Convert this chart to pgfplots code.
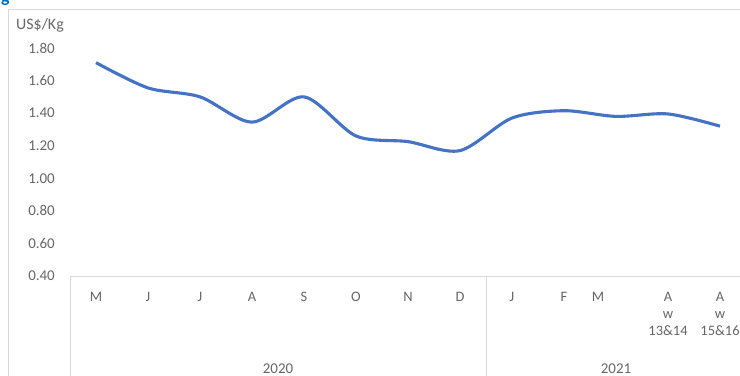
\documentclass[border=0pt]{standalone}
\usepackage{pgfplots}
\pgfplotsset{compat=1.18}
\usepackage{fontspec}
\setmainfont{Carlito}
\definecolor{lineblue}{HTML}{4472C4}
\definecolor{framegray}{HTML}{D9D9D9}
\definecolor{txtgray}{HTML}{666666}
\definecolor{figblue}{HTML}{0070C0}
\begin{document}
\begin{tikzpicture}
\useasboundingbox (0,0) rectangle (740bp,376bp);
\clip (0,0) rectangle (740bp,376bp);
% chart frame
\draw[framegray, line width=1bp] (8bp,-5bp) -- (8bp,366bp) -- (760bp,366bp);
\node[anchor=base west, inner sep=0, text=figblue, font=\bfseries\fontsize{18}{20}\selectfont] at (1bp,373bp) {g};
\node[anchor=west, inner sep=0, text=txtgray, font=\fontsize{16}{18}\selectfont] at (16bp,351bp) {US\$/Kg};
\begin{axis}[
  at={(70bp,100bp)}, anchor=south west,
  scale only axis, width=676bp, height=228bp,
  xmin=-0.5, xmax=12.5, ymin=0.4, ymax=1.8,
  axis y line*=left,
  y axis line style={draw=none},
  axis x line*=bottom,
  x axis line style={framegray, line width=1bp, -},
  xtick={0,...,12},
  xticklabels={M,J,J,A,S,O,N,D,J,F,{\hspace*{-36bp}M},{A\\w\\13\&14},{A\\w\\15\&16}},
  major tick length=0pt,
  extra x ticks={-0.5,7.5},
  extra x tick labels={},
  extra x tick style={major tick length=110bp, tick align=outside, tick style={framegray, line width=1bp}},
  xticklabel style={anchor=north, inner sep=0, yshift=-16bp, align=center, text=txtgray, font=\fontsize{14.5}{17}\selectfont},
  ytick={0.4,0.6,...,1.81},
  yticklabel style={anchor=east, inner sep=0, xshift=-15bp, text=txtgray, font=\fontsize{15}{17}\selectfont, /pgf/number format/.cd, fixed, fixed zerofill, precision=2},
  /pgf/number format/assume math mode=true,
  clip=false,
]
\addplot[lineblue, line width=3.1bp, smooth] coordinates {
 (0,1.71) (1,1.555) (2,1.50) (3,1.345) (4,1.50) (5,1.26) (6,1.225) (7,1.17)
 (8,1.37) (9,1.415) (10,1.38) (11,1.395) (12,1.32)
};
\node[text=txtgray, font=\fontsize{15}{17}\selectfont, anchor=base] at (axis cs:3.5,0.4) [yshift=-97bp] {2020};
\node[text=txtgray, font=\fontsize{15}{17}\selectfont, anchor=base] at (axis cs:10,0.4) [yshift=-97bp] {2021};
\end{axis}
\end{tikzpicture}
\end{document}
